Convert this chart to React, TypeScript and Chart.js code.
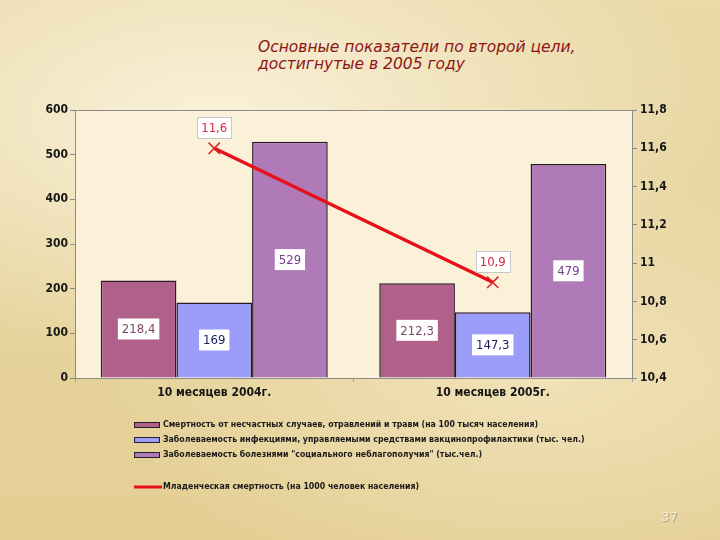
import React, { useEffect, useRef } from "react";
import { Chart, registerables } from "chart.js";

Chart.register(...registerables);

const categories = ["10 месяцев 2004г.", "10 месяцев 2005г."];
const accidents = [218.4, 212.3];
const infections = [169, 147.3];
const social = [529, 479];
const infantMortality = [11.6, 10.9];

const seriesNames = [
  "Смертность от несчастных случаев, отравлений и травм (на 100 тысяч населения)",
  "Заболеваемость инфекциями, управляемыми средствами вакцинопрофилактики (тыс. чел.)",
  "Заболеваемость болезнями \"социального неблагополучия\" (тыс.чел.)",
  "Младенческая смертность (на 1000 человек населения)",
];

const FONT = "'DejaVu Sans Condensed', 'DejaVu Sans', sans-serif";

const fmt = (v: number) => {
  const r = Math.round(v * 10) / 10;
  return String(r).replace(".", ",");
};

const labelColors = ["#7a4868", "#1c1c5c", "#7a3a8c"];

const bgPlugin = {
  id: "plotBg",
  beforeDraw(chart: any) {
    const { ctx, chartArea: a } = chart;
    ctx.save();
    ctx.fillStyle = "#fbf1d8";
    ctx.fillRect(a.left, a.top, a.right - a.left, a.bottom - a.top);
    ctx.strokeStyle = "#8c8c8c";
    ctx.lineWidth = 1;
    ctx.beginPath();
    ctx.moveTo(a.left, a.top + 0.5);
    ctx.lineTo(a.right, a.top + 0.5);
    ctx.stroke();
    ctx.restore();
  },
};

const labelPlugin = {
  id: "valueLabels",
  afterDatasetsDraw(chart: any) {
    const { ctx } = chart;
    ctx.save();
    ctx.font = `13px ${FONT}`;
    ctx.textAlign = "center";
    ctx.textBaseline = "middle";
    chart.data.datasets.forEach((ds: any, i: number) => {
      const meta = chart.getDatasetMeta(i);
      meta.data.forEach((el: any, j: number) => {
        const v = ds.data[j];
        const t = fmt(v);
        const w = ctx.measureText(t).width + 8;
        const h = 21;
        const cx = el.x;
        let cy: number;
        if (ds.type === "line") {
          cy = el.y - 21;
        } else {
          cy = (el.y + el.base) / 2;
        }
        ctx.fillStyle = "#ffffff";
        ctx.fillRect(cx - w / 2, cy - h / 2, w, h);
        if (ds.type === "line") {
          ctx.strokeStyle = "#c8c8c8";
          ctx.lineWidth = 1;
          ctx.strokeRect(Math.round(cx - w / 2) + 0.5, Math.round(cy - h / 2) + 0.5, Math.round(w), h);
          ctx.fillStyle = "#d8283c";
        } else {
          ctx.fillStyle = labelColors[ds.labelIndex];
        }
        ctx.fillText(t, cx, cy + 1);
      });
    });
    ctx.restore();
  },
};

const legendPlugin = {
  id: "customLegend",
  afterDraw(chart: any) {
    const { ctx } = chart;
    ctx.save();
    ctx.font = `bold 8.7px ${FONT}`;
    ctx.textBaseline = "middle";
    ctx.textAlign = "left";
    const x0 = 134;
    const ys = [425, 440, 455, 487];
    const barSets = chart.data.datasets.filter((d: any) => d.type !== "line");
    barSets.forEach((ds: any, i: number) => {
      const y = ys[i];
      ctx.fillStyle = ds.backgroundColor;
      ctx.fillRect(x0, y - 3, 26, 6);
      ctx.strokeStyle = "#222";
      ctx.lineWidth = 1;
      ctx.strokeRect(x0 + 0.5, y - 3 + 0.5, 25, 5);
      ctx.fillStyle = "#1a1a1a";
      ctx.fillText(ds.label, x0 + 29, y);
    });
    const line = chart.data.datasets.find((d: any) => d.type === "line");
    const y = ys[3];
    ctx.strokeStyle = line.borderColor;
    ctx.lineWidth = 3;
    ctx.beginPath();
    ctx.moveTo(x0, y);
    ctx.lineTo(x0 + 28, y);
    ctx.stroke();
    ctx.fillStyle = "#1a1a1a";
    ctx.fillText(line.label, x0 + 29, y);
    ctx.restore();
  },
};

export default function App() {
  const ref = useRef<HTMLCanvasElement>(null);
  useEffect(() => {
    if (!ref.current) return;
    const chart = new Chart(ref.current, {
      type: "bar",
      data: {
        labels: categories,
        datasets: [
          {
            type: "line",
            label: seriesNames[3],
            data: infantMortality,
            yAxisID: "y1",
            borderColor: "#e8101a",
            borderWidth: 3.5,
            pointStyle: "crossRot",
            pointRadius: 8,
            pointBorderColor: "#e02020",
            pointBorderWidth: 1.5,
            order: 0,
          } as any,
          {
            type: "bar",
            label: seriesNames[0],
            data: accidents,
            backgroundColor: "#b0608a",
            borderColor: "#2a1a26",
            borderWidth: 1.5,
            yAxisID: "y",
            order: 1,
            labelIndex: 0,
          } as any,
          {
            type: "bar",
            label: seriesNames[1],
            data: infections,
            backgroundColor: "#9c9cfa",
            borderColor: "#2a1a26",
            borderWidth: 1.5,
            yAxisID: "y",
            order: 1,
            labelIndex: 1,
          } as any,
          {
            type: "bar",
            label: seriesNames[2],
            data: social,
            backgroundColor: "#b07ab8",
            borderColor: "#2a1a26",
            borderWidth: 1.5,
            yAxisID: "y",
            order: 1,
            labelIndex: 2,
          } as any,
        ],
      },
      options: {
        animation: false,
        responsive: false,
        maintainAspectRatio: false,
        layout: { padding: { top: 110, bottom: 132, left: 0, right: 0 } },
        datasets: { bar: { categoryPercentage: 0.815, barPercentage: 1.0 } },
        plugins: { legend: { display: false }, tooltip: { enabled: false }, title: { display: false } },
        scales: {
          x: {
            grid: { display: true, drawOnChartArea: false, tickLength: 4, color: "#a0a0a0" },
            border: { display: true, color: "#8c8c8c" },
            ticks: { color: "#151515", font: { family: FONT, size: 12, weight: "bold" }, padding: 4 },
            afterFit: (s: any) => { s.height = 30; },
          },
          y: {
            position: "left",
            min: 0,
            max: 600,
            ticks: { stepSize: 100, color: "#151515", font: { family: FONT, size: 12, weight: "bold" }, padding: 2 },
            grid: { drawOnChartArea: false, tickLength: 5, color: "#8c8c8c" },
            border: { display: true, color: "#8c8c8c" },
            afterFit: (s: any) => { s.width = 75; },
          },
          y1: {
            position: "right",
            min: 10.4,
            max: 11.8,
            ticks: {
              stepSize: 0.2,
              color: "#151515",
              font: { family: FONT, size: 12, weight: "bold" },
              padding: 3,
              callback: (v: any) => fmt(Number(v)),
            },
            grid: { drawOnChartArea: false, tickLength: 5, color: "#8c8c8c" },
            border: { display: true, color: "#8c8c8c" },
            afterFit: (s: any) => { s.width = 88; },
          },
        },
      } as any,
      plugins: [bgPlugin, labelPlugin, legendPlugin],
    });
    return () => chart.destroy();
  }, []);

  return (
    <div
      style={{
        position: "fixed",
        left: 0,
        top: 0,
        width: 720,
        height: 540,
        overflow: "hidden",
        background:
          "radial-gradient(ellipse 70% 45% at 30% 22%, rgba(250,242,220,0.95), rgba(250,242,220,0) 100%), radial-gradient(ellipse 60% 40% at 75% 70%, rgba(245,232,196,0.7), rgba(245,232,196,0) 100%), linear-gradient(180deg, #eadaa8 0%, #e6d39c 60%, #e4cf94 100%)",
      }}
    >
      <div
        style={{
          position: "absolute",
          left: 258,
          top: 39,
          fontFamily: "'DejaVu Sans', sans-serif",
          fontStyle: "italic",
          fontSize: 15.5,
          lineHeight: "17px",
          color: "#8e1414",
          whiteSpace: "nowrap",
        }}
      >
        Основные показатели по второй цели,
        <br />
        достигнутые в 2005 году
      </div>
      <canvas ref={ref} width={720} height={540} style={{ position: "absolute", left: 0, top: 0 }} />
      <div
        style={{
          position: "absolute",
          left: 661,
          top: 509,
          fontFamily: "'DejaVu Sans', sans-serif",
          fontSize: 13,
          color: "#f4eedc",
          textShadow: "1px 1px 1px #a89c80",
        }}
      >
        37
      </div>
    </div>
  );
}
